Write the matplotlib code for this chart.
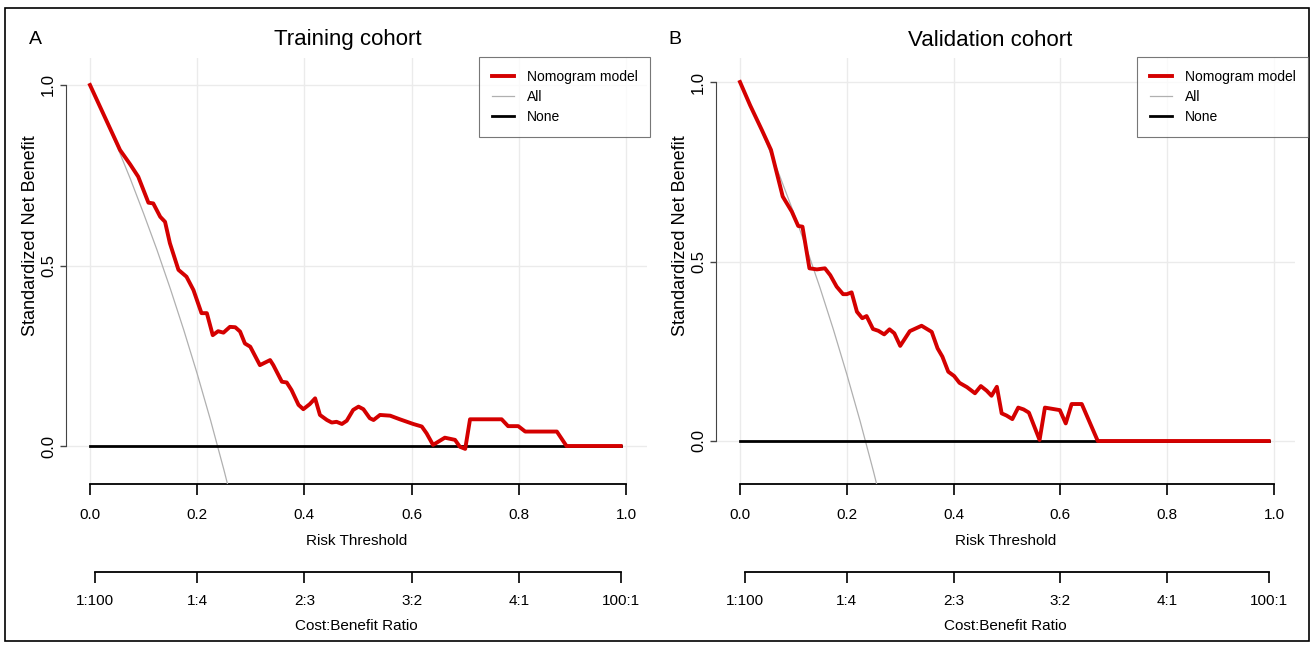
import matplotlib
matplotlib.use("Agg")
import matplotlib.pyplot as plt
from matplotlib.patches import Rectangle
from matplotlib.lines import Line2D

plt.rcParams['font.family'] = ['Liberation Sans', 'DejaVu Sans']

W, H = 1312, 645

# decision curve values
train_thr = [0, 0.056, 0.075, 0.09, 0.109, 0.118, 0.131, 0.140, 0.149, 0.165, 0.180, 0.193, 0.208, 0.218,
             0.229, 0.239, 0.249, 0.261, 0.271, 0.280, 0.289, 0.299, 0.317, 0.336, 0.342, 0.358, 0.367,
             0.376, 0.389, 0.398, 0.410, 0.420, 0.429, 0.442, 0.451, 0.460, 0.470, 0.479, 0.491, 0.501,
             0.510, 0.522, 0.529, 0.541, 0.560, 0.578, 0.603, 0.619, 0.628, 0.640, 0.662, 0.681, 0.690,
             0.700, 0.709, 0.768, 0.780, 0.799, 0.812, 0.871, 0.889, 0.99]
train_nb = [1.0, 0.82, 0.78, 0.746, 0.674, 0.672, 0.635, 0.621, 0.562, 0.488, 0.469, 0.432, 0.368, 0.368,
            0.307, 0.318, 0.314, 0.330, 0.329, 0.317, 0.284, 0.275, 0.224, 0.238, 0.224, 0.178, 0.176,
            0.155, 0.114, 0.102, 0.116, 0.132, 0.086, 0.072, 0.065, 0.067, 0.061, 0.070, 0.100, 0.109,
            0.102, 0.077, 0.072, 0.086, 0.084, 0.074, 0.061, 0.054, 0.035, 0.003, 0.023, 0.017, -0.002,
            -0.008, 0.074, 0.074, 0.055, 0.055, 0.040, 0.040, 0.0, 0.0]

val_thr = [0, 0.019, 0.041, 0.058, 0.069, 0.080, 0.097, 0.109, 0.117, 0.130, 0.144, 0.159, 0.169, 0.181,
           0.193, 0.200, 0.209, 0.219, 0.229, 0.237, 0.249, 0.259, 0.270, 0.280, 0.289, 0.300, 0.318,
           0.340, 0.359, 0.370, 0.379, 0.390, 0.401, 0.411, 0.425, 0.440, 0.451, 0.462, 0.471, 0.481,
           0.490, 0.499, 0.510, 0.521, 0.531, 0.541, 0.561, 0.571, 0.599, 0.610, 0.621, 0.640, 0.670, 0.99]
val_nb = [1.0, 0.935, 0.866, 0.811, 0.746, 0.681, 0.639, 0.599, 0.597, 0.481, 0.478, 0.481, 0.462, 0.430,
          0.409, 0.409, 0.414, 0.360, 0.342, 0.348, 0.312, 0.307, 0.297, 0.311, 0.300, 0.265, 0.306,
          0.321, 0.304, 0.258, 0.235, 0.193, 0.181, 0.162, 0.150, 0.133, 0.153, 0.140, 0.126, 0.151,
          0.077, 0.071, 0.061, 0.093, 0.088, 0.079, 0.003, 0.093, 0.086, 0.049, 0.103, 0.103, 0.0, 0.0]

all_thr = [0, 0.025, 0.05, 0.075, 0.10, 0.125, 0.15, 0.175, 0.20, 0.225, 0.25, 0.27]
train_all = [1.0, 0.918, 0.832, 0.741, 0.644, 0.543, 0.435, 0.321, 0.200, 0.071, -0.067, -0.184]
val_all = [1.0, 0.917, 0.829, 0.736, 0.638, 0.535, 0.426, 0.310, 0.186, 0.055, -0.085, -0.204]

none_thr = [0, 0.99]
none_nb = [0, 0]

risk_ticks = [0.0, 0.2, 0.4, 0.6, 0.8, 1.0]
risk_labels = ['0.0', '0.2', '0.4', '0.6', '0.8', '1.0']
cb_ticks = [1 / 101, 0.2, 0.4, 0.6, 0.8, 100 / 101]
cb_labels = ['1:100', '1:4', '2:3', '3:2', '4:1', '100:1']
y_ticks = [0.0, 0.5, 1.0]
y_labels = ['0.0', '0.5', '1.0']


def px_box(l, t, r, b):
    return [l / W, 1 - b / H, (r - l) / W, (b - t) / H]


fig = plt.figure(figsize=(W / 100, H / 100), dpi=100)
fig.patches.append(Rectangle((5 / W, 4 / H), 1304 / W, 633 / H, transform=fig.transFigure,
                             fill=False, edgecolor='black', lw=1.2))

panels = [
    # x0px, xscale, y0px, yscale, title, letter, curves, title x, letter x, legend right px
    (90, 536, 446, 361, 'Training cohort', 'A', train_thr, train_nb, train_all, 348, 35, 650),
    (740, 534, 441, 359, 'Validation cohort', 'B', val_thr, val_nb, val_all, 990, 675, 1308),
]

top_px, bot_px = 58, 484
for x0, xs, y0, ys, title, letter, thr, nb, allv, tx, lx, leg_r in panels:
    xl, xr = -0.045, 1.04
    left_px = x0 + xl * xs
    right_px = x0 + xr * xs
    ax = fig.add_axes(px_box(left_px, top_px, right_px, bot_px))
    ax.set_xlim(xl, xr)
    ax.set_ylim((y0 - bot_px) / ys, (y0 - top_px) / ys)

    for g in risk_ticks:
        ax.axvline(g, color='#ebebeb', lw=1, zorder=0)
    for g in y_ticks:
        ax.axhline(g, color='#ebebeb', lw=1, zorder=0)

    ax.plot(thr, nb, color='#d40000', lw=2.8, solid_joinstyle='round', zorder=4)
    ax.plot(all_thr, allv, color='#b0b0b0', lw=0.9, zorder=3)
    ax.plot(none_thr, none_nb, color='black', lw=2, zorder=3)

    for s in ['top', 'right']:
        ax.spines[s].set_visible(False)
    ax.spines['left'].set_bounds(0, 1)
    ax.spines['bottom'].set_bounds(0, 1)
    ax.spines['left'].set_color('#444444')
    ax.spines['bottom'].set_linewidth(1.3)

    ax.set_xticks(risk_ticks)
    ax.set_xticklabels(risk_labels)
    ax.set_yticks(y_ticks)
    ax.set_yticklabels(y_labels, rotation=90, va='center')
    ax.tick_params(axis='x', length=8, width=1.2, pad=9, labelsize=11)
    ax.tick_params(axis='y', length=4.5, width=1, pad=2.5, labelsize=12, color='#444444')
    ax.set_xlabel('Risk Threshold', fontsize=11, labelpad=9)
    ax.set_ylabel('Standardized Net Benefit', fontsize=13)
    ax.yaxis.set_label_coords((x0 - 51 - left_px) / (right_px - left_px),
                              (bot_px - 236) / (bot_px - top_px))

    sec = ax.secondary_xaxis(-(572 - bot_px) / (bot_px - top_px))
    sec.set_xticks(cb_ticks)
    sec.set_xticklabels(cb_labels)
    sec.spines['bottom'].set_bounds(cb_ticks[0], cb_ticks[-1])
    sec.spines['bottom'].set_linewidth(1.3)
    sec.tick_params(axis='x', length=8, width=1.2, pad=8, labelsize=11)
    sec.set_xlabel('Cost:Benefit Ratio', fontsize=11, labelpad=8)

    fig.text(tx / W, 1 - 40 / H, title, ha='center', va='center', fontsize=16)
    fig.text(lx / W, 1 - 40 / H, letter, ha='center', va='center', fontsize=14)

    handles = [Line2D([], [], color='#d40000', lw=2.8),
               Line2D([], [], color='#b0b0b0', lw=0.9),
               Line2D([], [], color='black', lw=2)]
    leg = fig.legend(handles, ['Nomogram model', 'All', 'None'], loc='upper right',
                     bbox_to_anchor=(leg_r / W, 1 - 57 / H), fontsize=10, frameon=True,
                     fancybox=False, edgecolor='#555555', handlelength=1.6, labelspacing=0.45,
                     borderpad=0.9, handletextpad=0.9, borderaxespad=0)
    leg.get_frame().set_linewidth(0.8)

fig.savefig('out.png', dpi=100)
